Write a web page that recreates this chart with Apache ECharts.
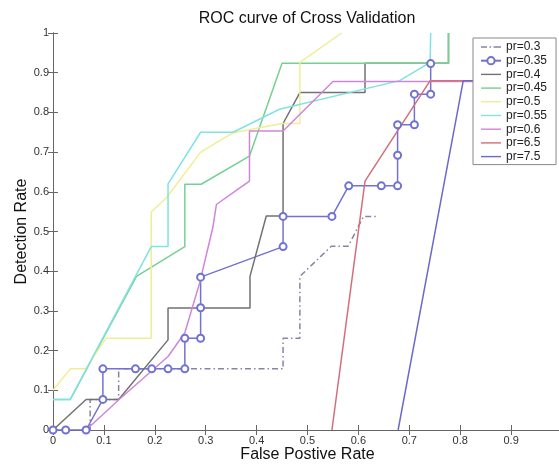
<!DOCTYPE html>
<html>
<head>
<meta charset="utf-8">
<script src="https://cdn.jsdelivr.net/npm/echarts@6/dist/echarts.min.js"></script>
<style>
  html, body { margin: 0; padding: 0; background: #fff; }
  #chart { width: 559px; height: 468px; }
</style>
</head>
<body>
<div id="chart"></div>
<script>
// tick labels
const xTicks = ['0', '0.1', '0.2', '0.3', '0.4', '0.5', '0.6', '0.7', '0.8', '0.9']
const yTicks = ['0', '0.1', '0.2', '0.3', '0.4', '0.5', '0.6', '0.7', '0.8', '0.9', '1']

// legend names, in draw order
const names = ['pr=0.3', 'pr=0.35', 'pr=0.4', 'pr=0.45', 'pr=0.5', 'pr=0.55', 'pr=0.6', 'pr=6.5', 'pr=7.5']

// [false positive rate, detection rate]
const pr03 = [[0.073, 0], [0.073, 0.077], [0.129, 0.077], [0.129, 0.154], [0.452, 0.154], [0.452, 0.231],
  [0.485, 0.231], [0.485, 0.387], [0.547, 0.463], [0.58, 0.463], [0.61, 0.538], [0.64, 0.538]]
const pr035 = [[0, 0], [0.025, 0], [0.065, 0], [0.098, 0.077], [0.098, 0.154], [0.162, 0.154], [0.194, 0.154],
  [0.226, 0.154], [0.259, 0.154], [0.259, 0.231], [0.29, 0.231], [0.29, 0.308], [0.29, 0.385], [0.452, 0.462],
  [0.452, 0.538], [0.548, 0.538], [0.581, 0.615], [0.645, 0.615], [0.677, 0.615], [0.677, 0.692], [0.677, 0.769],
  [0.71, 0.769], [0.71, 0.846], [0.742, 0.846], [0.742, 0.923]]
const pr04 = [[0, 0], [0.065, 0.077], [0.129, 0.077], [0.226, 0.227], [0.226, 0.307], [0.387, 0.307], [0.387, 0.387],
  [0.419, 0.539], [0.452, 0.539], [0.452, 0.772], [0.485, 0.85], [0.613, 0.85], [0.613, 0.924], [0.777, 0.924], [0.777, 1]]
const pr045 = [[0, 0.077], [0.034, 0.077], [0.164, 0.387], [0.259, 0.462], [0.259, 0.619], [0.291, 0.619],
  [0.386, 0.69], [0.45, 0.924], [0.777, 0.924], [0.777, 1]]
const pr05 = [[0, 0.1], [0.034, 0.154], [0.064, 0.154], [0.104, 0.231], [0.193, 0.231], [0.193, 0.549],
  [0.223, 0.585], [0.29, 0.7], [0.354, 0.749], [0.45, 0.772], [0.485, 0.772], [0.485, 0.926], [0.567, 1]]
const pr055 = [[0, 0.077], [0.034, 0.077], [0.193, 0.462], [0.226, 0.462], [0.226, 0.62], [0.29, 0.75],
  [0.354, 0.75], [0.445, 0.808], [0.681, 0.88], [0.741, 0.926], [0.742, 1]]
const pr06 = [[0.065, 0], [0.131, 0.078], [0.226, 0.185], [0.259, 0.245], [0.288, 0.37], [0.314, 0.51],
  [0.321, 0.568], [0.367, 0.61], [0.386, 0.627], [0.386, 0.753], [0.452, 0.753], [0.55, 0.878], [0.85, 0.878]]
const pr65 = [[0.548, 0], [0.613, 0.627], [0.741, 0.88], [0.85, 0.88]]
const pr75 = [[0.678, 0], [0.806, 0.88], [0.85, 0.88]]

const font = 'Liberation Sans, Arial, sans-serif'

// legend icons: plain line, dash-dot line
const iconLine = 'path://M0,0h20v1.4h-20z'
const iconDashDot = 'path://M0,0h6v1.4h-6z M8.5,0h1.5v1.4h-1.5z M12.5,0h7.5v1.4h-7.5z'

function line(name, data, color, extra) {
  return Object.assign({
    name: name,
    type: 'line',
    data: data,
    showSymbol: false,
    symbol: 'none',
    lineStyle: { color: color, width: 1.5 },
    itemStyle: { color: color }
  }, extra || {})
}

const chart = echarts.init(document.getElementById('chart'))

const option = {
  animation: false,
  backgroundColor: '#ffffff',
  textStyle: { fontFamily: font },
  title: {
    text: 'ROC curve of Cross Validation',
    left: 307,
    top: 11,
    padding: 0,
    textAlign: 'center',
    textStyle: { fontSize: 16, fontWeight: 'normal', color: '#111', fontFamily: font }
  },
  legend: {
    data: names.map((n, i) => {
      if (i === 1) return { name: n }
      return { name: n, icon: i === 0 ? iconDashDot : iconLine }
    }),
    orient: 'vertical',
    left: 473,
    top: 38,
    padding: [3, 9, 2, 7],
    itemWidth: 20,
    itemHeight: 9,
    itemGap: 1.7,
    backgroundColor: '#ffffff',
    borderColor: '#888',
    borderWidth: 1,
    borderRadius: 0,
    textStyle: { fontSize: 12, lineHeight: 12, color: '#222', fontFamily: font }
  },
  grid: { left: 53, right: -3, top: 33, bottom: 38, containLabel: false, outerBoundsMode: 'none' },
  xAxis: [
    {
      type: 'value',
      min: 0,
      max: 1,
      interval: 0.1,
      name: 'False Postive Rate',
      nameLocation: 'middle',
      nameGap: 17,
      nameMoveOverlap: false,
      nameTextStyle: { fontSize: 16, color: '#111', fontFamily: font },
      axisLine: { lineStyle: { color: '#666', width: 1 } },
      axisTick: { inside: true, length: 5, lineStyle: { color: '#666' } },
      axisLabel: {
        fontSize: 11, color: '#333', margin: 5,
        formatter: v => xTicks[Math.round(v * 10)] || ''
      },
      splitLine: { show: false }
    },
    {
      type: 'value',
      position: 'top',
      min: 0,
      max: 1,
      interval: 0.1,
      axisLine: { lineStyle: { color: '#666', width: 1 } },
      axisTick: { inside: true, length: 5, lineStyle: { color: '#666' } },
      axisLabel: { show: false },
      splitLine: { show: false }
    }
  ],
  yAxis: [
    {
      type: 'value',
      min: 0,
      max: 1,
      interval: 0.1,
      name: 'Detection Rate',
      nameLocation: 'middle',
      nameGap: 23,
      nameMoveOverlap: false,
      nameTextStyle: { fontSize: 16, color: '#111', fontFamily: font },
      axisLine: { show: true, lineStyle: { color: '#666', width: 1 } },
      axisTick: { show: true, inside: true, length: 5, lineStyle: { color: '#666' } },
      axisLabel: {
        fontSize: 11, color: '#333', margin: 4,
        formatter: v => yTicks[Math.round(v * 10)] || ''
      },
      splitLine: { show: false }
    },
    {
      type: 'value',
      position: 'right',
      min: 0,
      max: 1,
      interval: 0.1,
      axisLine: { show: true, lineStyle: { color: '#666', width: 1 } },
      axisTick: { show: true, inside: true, length: 5, lineStyle: { color: '#666' } },
      axisLabel: { show: false },
      splitLine: { show: false }
    }
  ],
  series: [
    line(names[0], pr03, '#8585a5', {
      lineStyle: { color: '#8585a5', width: 1.5, type: [6, 3, 1.5, 3] }
    }),
    line(names[1], pr035, '#7272d2', {
      showSymbol: true,
      symbol: 'emptyCircle',
      symbolSize: 7,
      itemStyle: { color: '#7272d2', borderColor: '#7272d2', borderWidth: 1.2 }
    }),
    line(names[2], pr04, '#727272'),
    line(names[3], pr045, '#74d192'),
    line(names[4], pr05, '#f0ee94'),
    line(names[5], pr055, '#80e2e2'),
    line(names[6], pr06, '#cf86d8'),
    line(names[7], pr65, '#d36e7c'),
    line(names[8], pr75, '#6a6acb')
  ]
}

chart.setOption(option)
</script>
</body>
</html>
